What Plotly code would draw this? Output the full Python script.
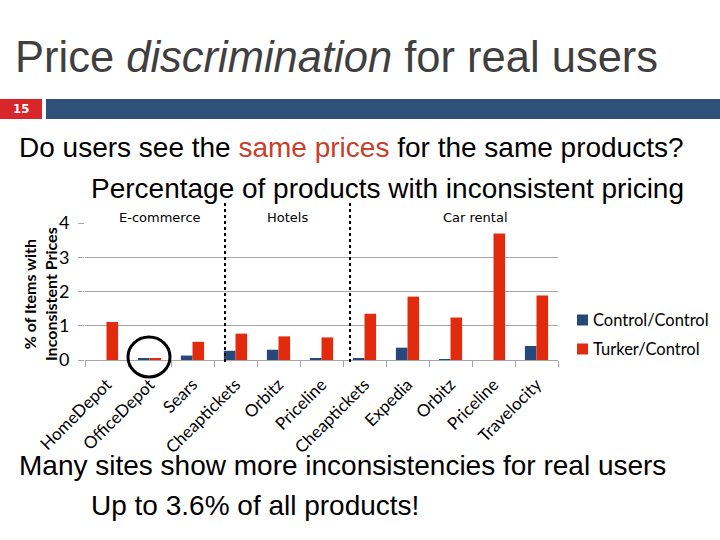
import plotly.graph_objects as go

sites = ["HomeDepot", "OfficeDepot", "Sears", "Cheaptickets", "Orbitz", "Priceline",
         "Cheaptickets", "Expedia", "Orbitz", "Priceline", "Travelocity"]
control_control = [0.0, 0.03, 0.13, 0.27, 0.30, 0.03, 0.03, 0.36, 0.02, 0.0, 0.41]
turker_control = [1.11, 0.03, 0.53, 0.77, 0.69, 0.66, 1.35, 1.85, 1.24, 3.69, 1.88]
groups = ["E-commerce", "Hotels", "Car rental"]
y_ticks = [0, 1, 2, 3, 4]

BLUE = "#26497A"
RED = "#E22A0E"

L, R, T, B = 85, 558, 223, 360
W, H = R - L, B - T


def px(x):
    return (x - L) / W


def py(y):
    return (B - y) / H


xs = list(range(len(sites)))

fig = go.Figure()
fig.add_trace(go.Bar(x=xs, y=control_control, name="Control/Control",
                     marker=dict(color=BLUE, line=dict(width=0))))
fig.add_trace(go.Bar(x=xs, y=turker_control, name="Turker/Control",
                     marker=dict(color=RED, line=dict(width=0))))

fig.update_layout(
    width=720, height=540,
    margin=dict(l=L, r=720 - R, t=T, b=540 - B, pad=0),
    paper_bgcolor="white", plot_bgcolor="white",
    barmode="group", bargap=0.46, bargroupgap=0,
    showlegend=False,
    font=dict(family="Lato", color="black"),
)

fig.update_xaxes(
    range=[-0.5, len(sites) - 0.5],
    tickmode="array", tickvals=xs, ticktext=sites,
    tickangle=-45, tickfont=dict(family="Lato", size=17, color="black"),
    ticks="", ticklabelstandoff=7,
    showgrid=False, zeroline=False,
    showline=True, linecolor="#A6A6A6", linewidth=1,
    minor=dict(tickmode="array", tickvals=[i - 0.5 for i in range(len(sites) + 1)],
               ticks="outside", ticklen=6, tickcolor="#A6A6A6", tickwidth=1, showgrid=False),
)
fig.update_yaxes(
    range=[0, 4], tickmode="array", tickvals=y_ticks,
    tickfont=dict(family="Lato", size=18, color="black"),
    ticks="outside", ticklen=6, tickcolor="#A6A6A6", ticklabelstandoff=5,
    showgrid=True, gridcolor="#A6A6A6", gridwidth=1,
    zeroline=False, showline=False,
)

ann = []
# Slide title
ann.append(dict(text="Price <i>discrimination</i> for real users", x=px(13), y=py(57),
                xanchor="left", yanchor="middle",
                font=dict(family="Liberation Sans", size=43.5, color="#3F3F3F")))
# Slide number
ann.append(dict(text="<b>15</b>", x=px(21), y=py(109), xanchor="center", yanchor="middle",
                font=dict(family="DejaVu Sans Condensed", size=13, color="white")))
ann.append(dict(text="Do users see the <span style='color:#C8402A'>same prices</span> for the same products?",
                x=px(17), y=py(147), xanchor="left", yanchor="middle",
                font=dict(family="Liberation Sans", size=28, color="black")))
ann.append(dict(text="Percentage of products with inconsistent pricing",
                x=px(89), y=py(188), xanchor="left", yanchor="middle",
                font=dict(family="Liberation Sans", size=28, color="black")))
ann.append(dict(text="Many sites show more inconsistencies for real users",
                x=px(17), y=py(465), xanchor="left", yanchor="middle",
                font=dict(family="Liberation Sans", size=28, color="black")))
ann.append(dict(text="Up to 3.6% of all products!",
                x=px(89), y=py(505), xanchor="left", yanchor="middle",
                font=dict(family="Liberation Sans", size=28, color="black")))
# Group labels
for g, gx in zip(groups, [160, 287, 475]):
    ann.append(dict(text=g, x=px(gx), y=py(217), xanchor="center", yanchor="middle",
                    font=dict(family="DejaVu Sans", size=13, color="black")))
# Y-axis title
ann.append(dict(text="<b>% of Items with<br>Inconsistent Prices</b>", x=px(40), y=py(294),
                xanchor="center", yanchor="middle", textangle=-90,
                font=dict(family="Lato", size=16, color="black")))
# Legend
for name, col, yy in [("Control/Control", BLUE, 320), ("Turker/Control", RED, 349)]:
    ann.append(dict(text=name, x=px(591), y=py(yy), xanchor="left", yanchor="middle",
                    font=dict(family="Lato", size=16.5, color="black")))

for a in ann:
    a.update(xref="paper", yref="paper", showarrow=False)
fig.update_layout(annotations=ann)

shapes = []
# Slide bars
shapes.append(dict(type="rect", x0=px(0), x1=px(42), y0=py(99), y1=py(119),
                   fillcolor="#D9262A", line=dict(width=0)))
shapes.append(dict(type="rect", x0=px(46), x1=px(720), y0=py(99), y1=py(119),
                   fillcolor="#2E5079", line=dict(width=0)))
# Separators
for sx in [225, 350]:
    shapes.append(dict(type="line", x0=px(sx), x1=px(sx), y0=py(203), y1=py(364),
                       line=dict(color="black", width=2, dash="dot")))
# Circle highlight
shapes.append(dict(type="circle", x0=px(128), x1=px(170), y0=py(337), y1=py(377),
                   line=dict(color="black", width=3)))
# Legend swatches
for col, yy in [(BLUE, 320), (RED, 349)]:
    shapes.append(dict(type="rect", x0=px(577), x1=px(588), y0=py(yy - 5.5), y1=py(yy + 5.5),
                       fillcolor=col, line=dict(width=0)))
for s in shapes:
    s.update(xref="paper", yref="paper")
fig.update_layout(shapes=shapes)

fig.write_html("out.html", config={"displayModeBar": False},
               post_script="document.body.style.margin='0';document.body.style.padding='0';")
